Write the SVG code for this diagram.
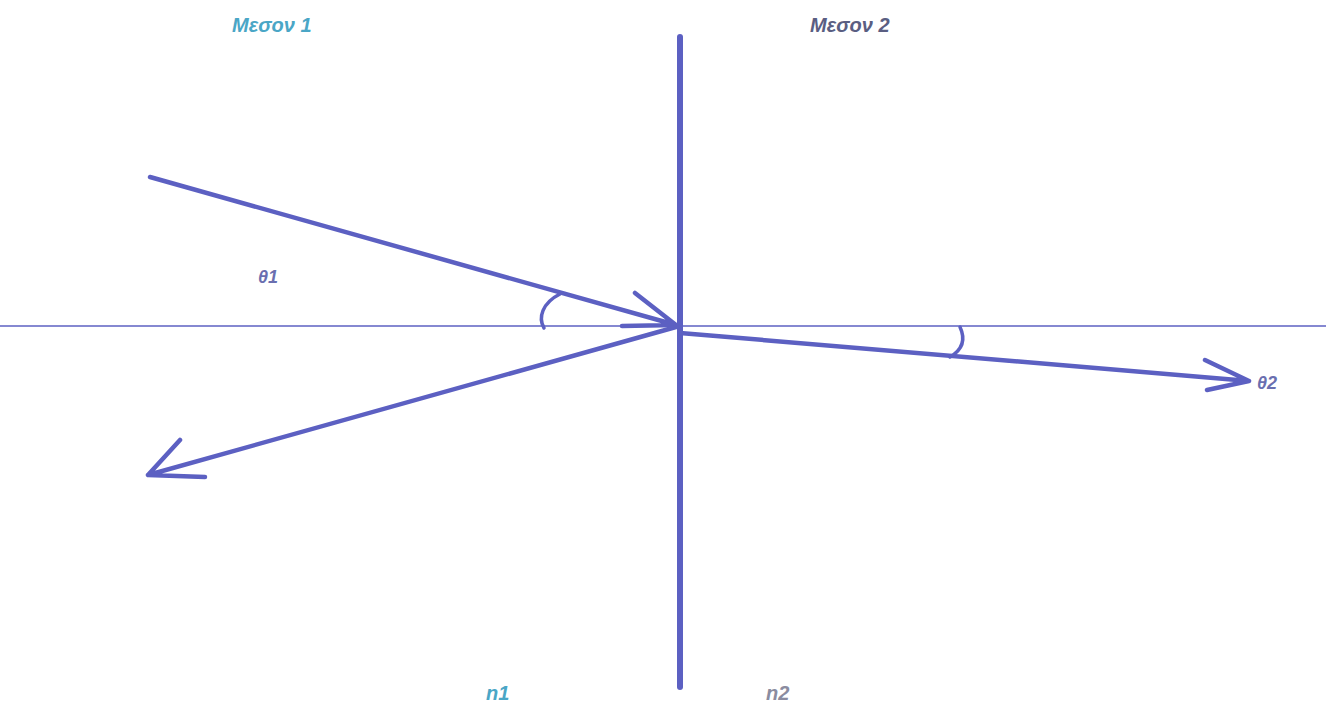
<svg xmlns="http://www.w3.org/2000/svg" width="1326" height="704" viewBox="0 0 1326 704">
<style>
.ray{stroke:#5c60c2;stroke-width:4.5;fill:none;stroke-linecap:round;stroke-linejoin:round}
.lbl{font-family:"Liberation Sans",Arial,sans-serif;font-style:italic;font-size:20px;font-weight:bold}
</style>
<rect width="1326" height="704" fill="#ffffff"/>
<g id="connectors">
<line x1="0" y1="326" x2="1326" y2="326" stroke="#5c60c2" stroke-width="1.5"/>
<line x1="680" y1="37" x2="680" y2="687" class="ray" style="stroke-width:6"/>
<path class="ray" d="M150,177 L676,325 M635,293 L676,325 L622,326"/>
<path class="ray" d="M676,327 L148,475 M180,440 L148,475 L205,477"/>
<path class="ray" d="M680,333 L1249,381 M1205,360 L1249,381 L1207,390"/>
<path class="ray" d="M544,328 C538,318 542,303 560,294" style="stroke-width:3.5"/>
<path class="ray" d="M960,327 C966,340 962,350 950,357" style="stroke-width:3.5"/>
</g>
<g id="medium1"><text class="lbl" x="232" y="32" fill="#4aa6c6">Μεσον 1</text></g>
<g id="medium2"><text class="lbl" x="810" y="32" fill="#5a5e82">Μεσον 2</text></g>
<g id="theta1"><text class="lbl" x="258" y="283" fill="#6a6fb0" style="font-size:18px">θ1</text></g>
<g id="theta2"><text class="lbl" x="1257" y="389" fill="#6a6fb0" style="font-size:18px">θ2</text></g>
<g id="n1"><text class="lbl" x="486" y="700" fill="#4aa6c6">n1</text></g>
<g id="n2"><text class="lbl" x="766" y="700" fill="#8a8ca0">n2</text></g>
</svg>
